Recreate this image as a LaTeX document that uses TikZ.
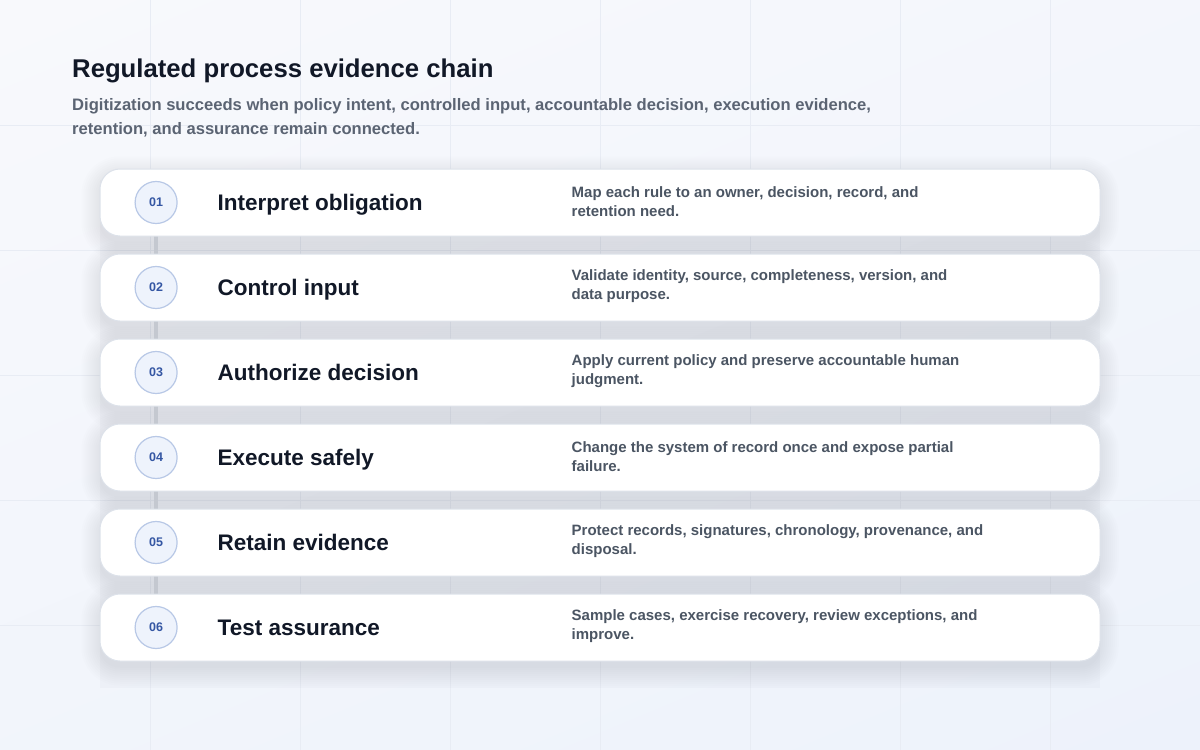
\documentclass[tikz,border=0pt]{standalone}
\usepackage{fontspec}
\setmainfont{Liberation Sans}
\usetikzlibrary{positioning,shadings}

\definecolor{bgtop}{HTML}{F8F9FC}
\definecolor{bgbottom}{HTML}{EDF2FB}
\definecolor{gridline}{HTML}{E8ECF4}
\definecolor{cardline}{HTML}{DDE2EA}
\definecolor{badgefill}{HTML}{EEF3FC}
\definecolor{badgeline}{HTML}{B8C8E6}
\definecolor{badgetext}{HTML}{3456A3}
\definecolor{ink}{HTML}{111827}
\definecolor{note}{HTML}{4B5563}
\definecolor{subtext}{HTML}{5B6473}
\definecolor{linkgray}{HTML}{C4C8D0}
\definecolor{shadow}{HTML}{7A8299}

\pgfdeclarelayer{back}
\pgfsetlayers{back,main}

\begin{document}
\begin{tikzpicture}
	[x=1pt,y=-1pt,
		card/.style={draw=cardline,line width=1pt,fill=white,rounded corners=20pt,minimum width=1000pt,minimum height=67pt},
		badge/.style={circle,draw=badgeline,line width=1.2pt,fill=badgefill,minimum size=42pt,inner sep=0pt,text=badgetext,font=\bfseries\fontsize{12.5}{14}\selectfont},
		steptitle/.style={inner sep=0pt,text height=16pt,text depth=0pt,text=ink,font=\bfseries\fontsize{22.5}{26}\selectfont},
		stepnote/.style={inner sep=0pt,align=left,text=note,yshift=1pt,font=\bfseries\fontsize{15}{19}\selectfont},
		link/.style={draw=linkgray,line width=4pt},
		haze/.style={fill=shadow,opacity=0.014}]

	\useasboundingbox (0,0) rectangle (1200,750);

	\node[anchor=base west,inner sep=0pt,text=ink,font=\bfseries\fontsize{25.7}{30}\selectfont] (title) at (72,77) {Regulated process evidence chain};
	\node[anchor=base west,inner sep=0pt,align=left,text=subtext,font=\bfseries\fontsize{16.6}{24}\selectfont] (sub) at (72,134)
		{Digitization succeeds when policy intent, controlled input, accountable decision, execution evidence,\\retention, and assurance remain connected.};

	\node[card]  (c1) at (600,202.5) {};
	\node[card]  [below=17pt of c1]  (c2) {};
	\node[card]  [below=17pt of c2]  (c3) {};
	\node[card]  [below=17pt of c3]  (c4) {};
	\node[card]  [below=17pt of c4]  (c5) {};
	\node[card]  [below=17pt of c5]  (c6) {};

	\node[badge]  [right=35pt of c1.west]  (b1) {01};
	\node[badge]  [right=35pt of c2.west]  (b2) {02};
	\node[badge]  [right=35pt of c3.west]  (b3) {03};
	\node[badge]  [right=35pt of c4.west]  (b4) {04};
	\node[badge]  [right=35pt of c5.west]  (b5) {05};
	\node[badge]  [right=35pt of c6.west]  (b6) {06};

	\node[steptitle]  [right=118pt of c1.west]  (t1) {Interpret obligation};
	\node[steptitle]  [right=118pt of c2.west]  (t2) {Control input};
	\node[steptitle]  [right=118pt of c3.west]  (t3) {Authorize decision};
	\node[steptitle]  [right=118pt of c4.west]  (t4) {Execute safely};
	\node[steptitle]  [right=118pt of c5.west]  (t5) {Retain evidence};
	\node[steptitle]  [right=118pt of c6.west]  (t6) {Test assurance};

	\node[stepnote]  [right=472pt of c1.west]  (n1) {Map each rule to an owner, decision, record, and\\retention need.};
	\node[stepnote]  [right=472pt of c2.west]  (n2) {Validate identity, source, completeness, version, and\\data purpose.};
	\node[stepnote]  [right=472pt of c3.west]  (n3) {Apply current policy and preserve accountable human\\judgment.};
	\node[stepnote]  [right=472pt of c4.west]  (n4) {Change the system of record once and expose partial\\failure.};
	\node[stepnote]  [right=472pt of c5.west]  (n5) {Protect records, signatures, chronology, provenance, and\\disposal.};
	\node[stepnote]  [right=472pt of c6.west]  (n6) {Sample cases, exercise recovery, review exceptions, and\\improve.};

	\begin{pgfonlayer}{back}
		% page and faint grid
		\shade[upper left=bgtop,upper right=bgtop!60!bgbottom,lower left=bgtop!40!bgbottom,lower right=bgbottom] (0,0) rectangle (1200,750);
		\foreach \gx in {150,300,...,1050} \draw[gridline,line width=1pt] (\gx,0) -- (\gx,750);
		\foreach \gy in {125,250,...,625} \draw[gridline,line width=1pt] (0,\gy) -- (1200,\gy);
		% soft panel and card shadows
		\fill[shadow,opacity=0.04] (100,180) rectangle (1100,688);
		\foreach \c in {c1,c2,c3,c4,c5,c6}
			\foreach \k in {0,2,...,18} {
				\pgfmathsetmacro\r{20+\k}
				\fill[haze,rounded corners=\r pt] ([xshift=-\k pt,yshift={\k pt-6pt}]\c.north west) rectangle ([xshift=\k pt,yshift={-\k pt-6pt}]\c.south east);
			}
		\path[link]
		(b1) -- (b2)
		(b2) -- (b3)
		(b3) -- (b4)
		(b4) -- (b5)
		(b5) -- (b6);
	\end{pgfonlayer}

\end{tikzpicture}
\end{document}
